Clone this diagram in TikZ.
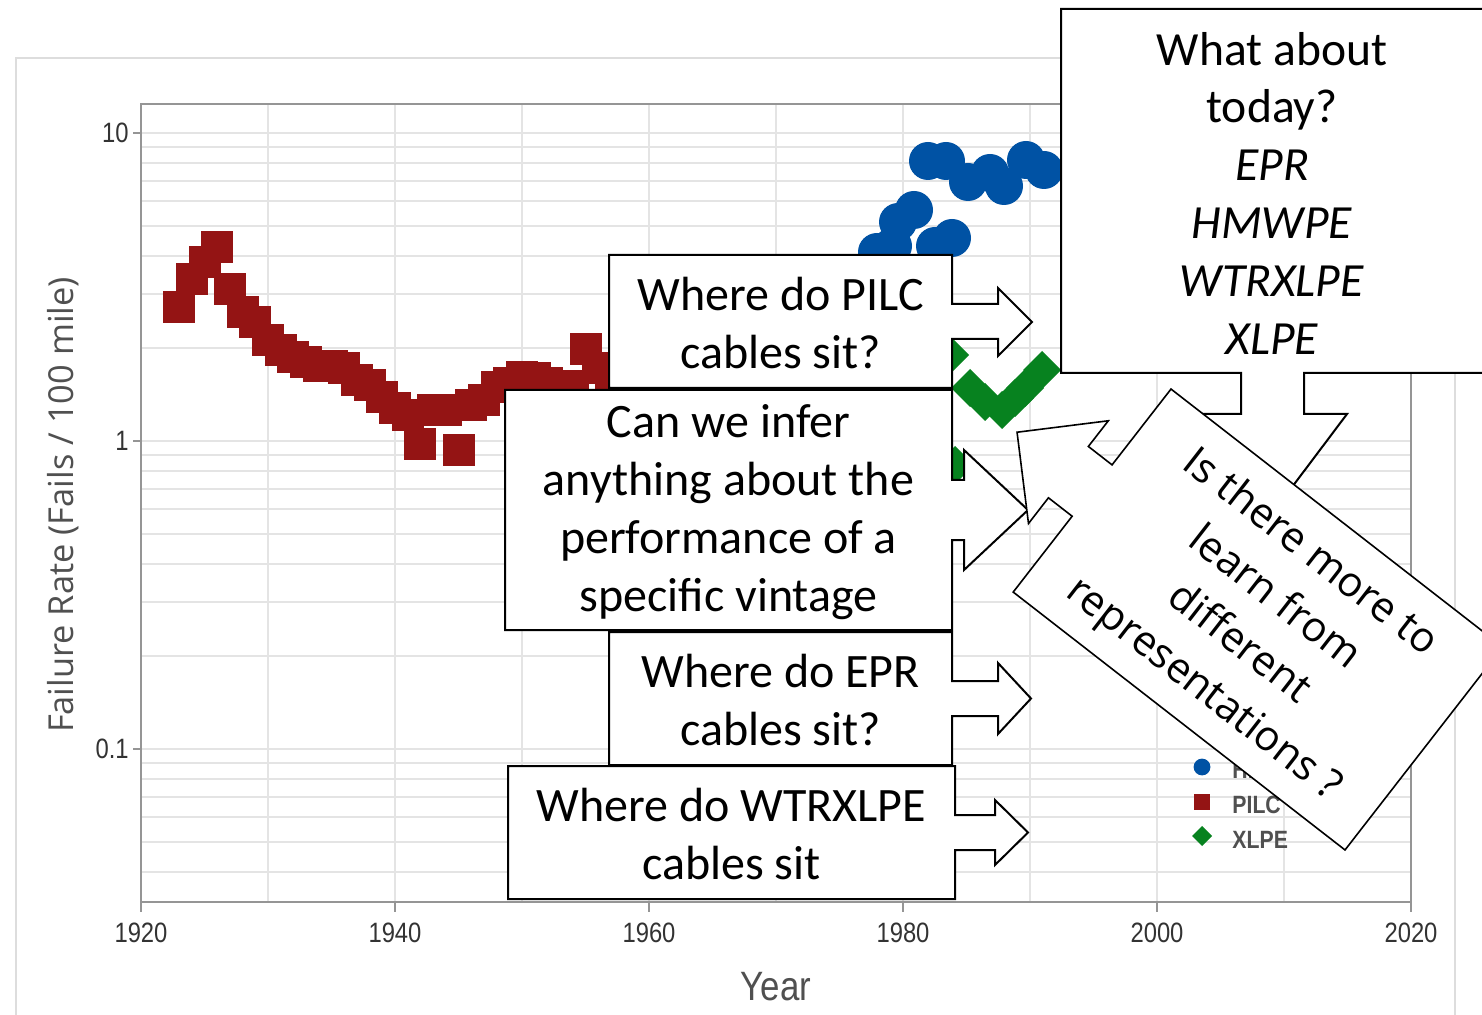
\documentclass[tikz,border=0pt]{standalone}
\usepackage{fontspec}
\setmainfont{Carlito}
\newfontfamily\axisfont[FakeStretch=0.85]{Liberation Sans}
\newfontfamily\labfont{Open Sans}
\definecolor{gridc}{HTML}{E4E4E4}
\definecolor{axisc}{HTML}{959595}
\definecolor{framec}{HTML}{DDDDDD}
\definecolor{tickc}{HTML}{333333}
\definecolor{labc}{HTML}{505050}
\definecolor{pilc}{HTML}{941414}
\definecolor{hmw}{HTML}{0052A4}
\definecolor{xlpe}{HTML}{07821F}
\begin{document}
\begin{tikzpicture}[x=0.5pt,y=-0.5pt,
  gridline/.style={draw=gridc, line width=1pt},
  callout/.style={draw=black, fill=white, line width=1pt, line join=miter},
  ctext/.style={align=center, inner sep=0pt, font=\fontsize{24pt}{29pt}\selectfont},
  ticklab/.style={text=tickc, inner sep=0pt, font=\axisfont\fontsize{14pt}{16pt}\selectfont},
  leglab/.style={text=labc, inner sep=0pt, anchor=west, font=\axisfont\bfseries\fontsize{12.5pt}{14pt}\selectfont}]
\useasboundingbox (0,0) rectangle (1482,1015);
\fill[white] (0,0) rectangle (1482,1015);
% outer frame
\draw[framec, line width=1.2pt] (16,1030) -- (16,58) -- (1455,58) -- (1455,1030);
% grid
\foreach \yr in {1930,1940,...,2010} \draw[gridline] ({141+(\yr-1920)*12.7},104) -- ++(0,798);
\draw[gridline] (141,133) -- (1411,133);
\foreach \d in {-2,-1,0} {
  \foreach \m in {1,...,9} {
    \pgfmathsetmacro\yy{441-308*(\d+log10(\m))}
    \ifdim\yy pt<900pt \draw[gridline] (141,\yy) -- (1411,\yy); \fi
  }
}
% plot frame
\draw[axisc, line width=1.2pt] (141,104) rectangle (1411,902);
\foreach \i/\lab in {0/1920,1/1940,2/1960,3/1980,4/2000,5/2020} {
  \draw[axisc, line width=1pt] ({141+254*\i},902) -- ++(0,10);
  \node[ticklab] (xt\i) at ({141+254*\i},933) {\lab};
}
\foreach \yv/\lab/\nm in {133/10/a,441/1/b,749/0.1/c} {
  \draw[axisc, line width=1pt] (133,\yv) -- (141,\yv);
  \node[ticklab, anchor=east] (yt\nm) at (129,\yv) {\lab};
}
\node[rotate=90, text=labc, font=\labfont\fontsize{17.2pt}{19pt}\selectfont] (ylab) at (63,505) {Failure Rate (Fails / 100 mile)};
\node[text=labc, font=\axisfont\fontsize{20.5pt}{22pt}\selectfont] (xlab) at (776,987) {Year};
% PILC squares
\foreach \yr/\yy in {1923/307,1924/279,1925/262,1926/247,1927/289,1928/312,1929/322,1930/340,1931/350,1932/357,1933/362,1934/366,1935/366,1936/368,1937/380,1938/385,1939/397,1940/408,1941/415,1942/444,1943/410,1944/410,1945/450,1946/405,1947/400,1948/387,1949/383,1950/377,1951/378,1952/383,1953/386,1954/386,1955/349,1956/368,1957/375}
  \fill[pilc] ({141+(\yr-1920)*12.7-16},\yy-16) rectangle ++(32,32);
% blue circles
\foreach \cx/\cy in {928/161,946/161,968/182,990/173,1004/186,1026/160,1044/170,898/222,914/210,935/246,952/238,877/252,893/246}
  \fill[hmw] (\cx,\cy) circle[radius=9.5pt];
% green diamonds
\foreach \cx/\cy in {950/355,970/388,985/402,1002/410,1015/398,1025/388,1042/370,955/465}
  \fill[xlpe] (\cx,\cy) ++(-19,0) -- ++(19,-19) -- ++(19,19) -- ++(-19,19) -- cycle;
% legend
\fill[hmw] (1202,767) circle[radius=4.2pt];
\fill[pilc] (1194,794) rectangle (1210,810);
\fill[xlpe] (1202,836) ++(-10,0) -- ++(10,-10) -- ++(10,10) -- ++(-10,10) -- cycle;
\node[leglab] (lg1) at (1232,770) {HMWPE};
\node[leglab] (lg2) at (1232,805) {PILC};
\node[leglab] (lg3) at (1232,840) {XLPE};
% callouts
\draw[callout] (609,255) -- (952,255) -- (952,304) -- (998,304) -- (998,288) -- (1032,322) -- (998,356) -- (998,339) -- (952,339) -- (952,388) -- (609,388) -- cycle;
\node[ctext] (q1) at (780.5,323) {Where do PILC\\cables sit?};
\draw[callout] (505,390) -- (952,390) -- (952,480) -- (964,480) -- (964,450) -- (1028,510) -- (964,570) -- (964,540) -- (952,540) -- (952,630) -- (505,630) -- cycle;
\node[ctext] (q2) at (728.5,512) {Can we infer\\anything about the\\performance of a\\specific vintage};
\draw[callout] (609,632) -- (952,632) -- (952,681) -- (998,681) -- (998,663) -- (1031,698.5) -- (998,734) -- (998,716) -- (952,716) -- (952,765) -- (609,765) -- cycle;
\node[ctext] (q3) at (780.5,700) {Where do EPR\\cables sit?};
\draw[callout] (508,766) -- (955,766) -- (955,815) -- (995,815) -- (995,800) -- (1028,832.5) -- (995,865) -- (995,850) -- (955,850) -- (955,899) -- (508,899) -- cycle;
\node[ctext] (q4) at (731.5,834) {Where do WTRXLPE\\cables sit};
\draw[callout] (1061,9) -- (1490,9) -- (1490,373) -- (1304,373) -- (1304,414) -- (1347,414) -- (1272.5,513) -- (1198,414) -- (1241,414) -- (1241,373) -- (1061,373) -- cycle;
\node[ctext, font=\fontsize{23.8pt}{28.9pt}\selectfont] (q5) at (1272,193) {What about\\today?\\\textit{EPR}\\\textit{HMWPE}\\\textit{WTRXLPE}\\\textit{XLPE}};
\begin{scope}[shift={(1258,619.5)}, x={(0.395pt,-0.307pt)}, y={(-0.307pt,-0.395pt)}]
\draw[callout, line width=0.8pt] (-210,-128.5) -- (210,-128.5) -- (210,128.5) -- (-210,128.5) -- (-210,32.5) -- (-240,32.5) -- (-240,65) -- (-305,0) -- (-240,-65) -- (-240,-32.5) -- (-210,-32.5) -- cycle;
\node[rotate=-37.85, align=center, inner sep=0pt, font=\labfont\fontsize{20.8pt}{28.8pt}\selectfont] (q6) at (0,3) {Is there more to\\learn from\\different\\representations ?};
\end{scope}
\end{tikzpicture}
\end{document}
